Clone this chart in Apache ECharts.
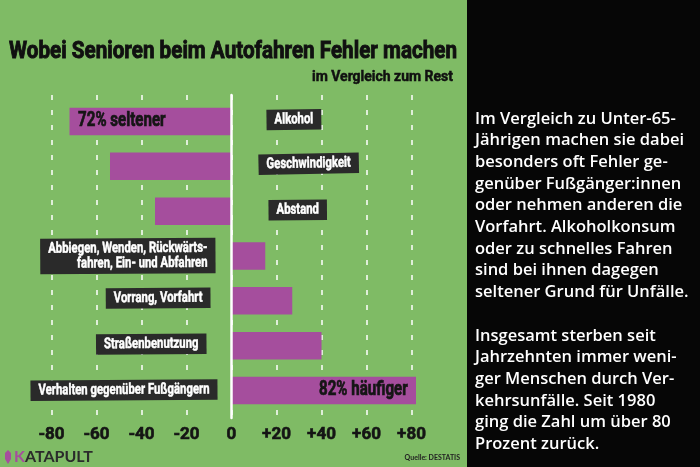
<!DOCTYPE html>
<html><head><meta charset="utf-8">
<script src="https://cdn.jsdelivr.net/npm/echarts@6/dist/echarts.min.js"></script>
<style>html,body{margin:0;padding:0;background:#7fbb65}#c{width:700px;height:467px}</style>
</head><body><div id="c"></div>
<script>
// ---- data ----
const categories = [
  'Alkohol',
  'Geschwindigkeit',
  'Abstand',
  'Abbiegen, Wenden, Rückwärts-\nfahren, Ein- und Abfahren',
  'Vorrang, Vorfahrt',
  'Straßenbenutzung',
  'Verhalten gegenüber Fußgängern'
];
const values = [-72, -54, -34, 15, 27, 40, 82];
const barTexts = ['72% seltener', '', '', '', '', '', '82% häufiger'];
const tickValues = [-80, -60, -40, -20, 0, 20, 40, 60, 80];
const titleText = 'Wobei Senioren beim Autofahren Fehler machen';
const subtitleText = 'im Vergleich zum Rest';
const sideLines = [
  'Im Vergleich zu Unter-65-',
  'Jährigen machen sie dabei',
  'besonders oft Fehler ge-',
  'genüber Fußgänger:innen',
  'oder nehmen anderen die',
  'Vorfahrt. Alkoholkonsum',
  'oder zu schnelles Fahren',
  'sind bei ihnen dagegen',
  'seltener Grund für Unfälle.',
  '',
  'Insgesamt sterben seit',
  'Jahrzehnten immer weni-',
  'ger Menschen durch Ver-',
  'kehrsunfälle. Seit 1980',
  'ging die Zahl um über 80',
  'Prozent zurück.'
];
const sourceText = 'Quelle: DESTATIS';

// ---- styles (not data) ----
const FONT = 'Roboto';
const W = 'bold';
const GREEN = '#7fbb65', PURPLE = '#a54e9d', BOX = '#2a2a2a', INK = '#101010';
const labelGap = [35, 27, 37, 16, 21, 25, 14];
const labelDy = [-1.5, -1.5, -1, -0.5, -3, -2, -1];
const labelRot = [0.012, 0.02, 0.008, 0.006, 0.006, 0.008, 0.006];

const mctx = document.createElement('canvas').getContext('2d');
function textW(t, font) {
  mctx.font = font;
  return Math.max.apply(null, t.split('\n').map(s => mctx.measureText(s).width));
}
const LABEL_FONT = W + ' 15px ' + FONT;
const labelSx = 171 / textW('Verhalten gegenüber Fußgängern', LABEL_FONT);
const INNER_FONT = W + ' 19.5px ' + FONT;
const innerSx = 87.5 / textW('72% seltener', INNER_FONT);
const TITLE_FONT = W + ' 23.5px ' + FONT;
const titleSx = 448 / textW(titleText, TITLE_FONT);
const SUB_FONT = W + ' 15px ' + FONT;
const subSx = 141 / textW(subtitleText, SUB_FONT);

const chart = echarts.init(document.getElementById('c'), null, {renderer: 'canvas'});

function renderLabels(params, api) {
  const i = params.dataIndex;
  const v = api.value(0);
  const c = api.value(1);
  const zero = api.coord([0, c]);
  const end = api.coord([v, c]);
  const neg = v < 0;
  const pad = 8 / labelSx;
  const children = [{
    type: 'text',
    x: zero[0] + (neg ? labelGap[i] : -labelGap[i]),
    y: zero[1] + labelDy[i],
    rotation: labelRot[i],
    scaleX: labelSx, scaleY: 1,
    style: {
      text: categories[i], align: neg ? 'left' : 'right', verticalAlign: 'middle',
      fill: '#ffffff', font: LABEL_FONT, lineHeight: 15,
      stroke: '#ffffff', lineWidth: 0.5,
      backgroundColor: BOX, padding: [3, pad, 2.5, pad]
    }
  }];
  if (barTexts[i]) {
    children.push({
      type: 'text',
      x: end[0] + (neg ? 8.6 : -8.3),
      y: end[1],
      scaleX: innerSx, scaleY: 1,
      style: {
        text: barTexts[i], align: neg ? 'left' : 'right', verticalAlign: 'middle',
        fill: '#151515', stroke: '#151515', lineWidth: 0.7, font: INNER_FONT
      }
    });
  }
  return {type: 'group', children: children};
}

const option = {
  backgroundColor: GREEN,
  animation: false,
  grid: [
    {left: 51.5, right: 288.5, top: 95, bottom: 49},
    {left: 51.5, right: 288.5, top: 99, bottom: 54}
  ],
  xAxis: [
    {
      gridIndex: 0, type: 'value', min: -80, max: 80, interval: 20,
      axisLine: {show: false}, axisTick: {show: false},
      splitLine: {show: true, lineStyle: {color: '#ffffff', width: 1.5, type: [5, 10]}},
      axisLabel: {
        margin: 8, color: '#141414', fontFamily: FONT, fontWeight: W, fontSize: 17,
        textBorderColor: '#141414', textBorderWidth: 0.6,
        formatter: v => (v > 0 ? '+' + v : String(v))
      }
    },
    {gridIndex: 1, type: 'value', min: -80, max: 80, show: false}
  ],
  yAxis: [
    {
      gridIndex: 0, type: 'value', min: 0, max: 1, z: 5,
      axisLabel: {show: false}, axisTick: {show: false}, splitLine: {show: false},
      axisLine: {show: true, onZero: true, lineStyle: {color: '#ffffff', width: 2.5}}
    },
    {gridIndex: 1, type: 'category', data: categories, inverse: true, show: false}
  ],
  series: [
    {
      type: 'bar', xAxisIndex: 1, yAxisIndex: 1, data: values,
      barWidth: 27.5, clip: false,
      itemStyle: {color: PURPLE}
    },
    {
      type: 'custom', xAxisIndex: 1, yAxisIndex: 1, z: 6, clip: false,
      data: values.map((v, i) => [v, i]),
      encode: {x: 0, y: 1},
      renderItem: renderLabels
    }
  ],
  graphic: [
    {type: 'rect', shape: {x: 467, y: 0, width: 233, height: 467}, style: {fill: '#060606'}, z: 1},
    {type: 'text', x: 9, y: 52, z: 10, scaleX: titleSx, style: {text: titleText, fill: INK,
      stroke: INK, lineWidth: 0.9, font: TITLE_FONT, textVerticalAlign: 'middle'}},
    {type: 'text', x: 453, y: 77, z: 10, scaleX: subSx, style: {text: subtitleText, fill: INK,
      stroke: INK, lineWidth: 0.5, font: SUB_FONT, textAlign: 'right', textVerticalAlign: 'middle'}},
    {type: 'text', x: 475, y: 108, z: 10, style: {text: sideLines.join('\n'), fill: '#ffffff',
      font: '600 16.5px "Open Sans"', lineHeight: 21.7, textVerticalAlign: 'top'}},
    {type: 'polygon', z: 10, shape: {points: [[8, 450], [11, 453], [11, 459], [8, 464], [5, 459], [5, 453]]},
      style: {fill: PURPLE}},
    {type: 'text', x: 14, y: 457, z: 10, style: {
      text: '{k|K}{a|ATAPULT}', textVerticalAlign: 'middle',
      rich: {
        k: {fill: PURPLE, fontFamily: 'Lato', fontWeight: 'bold', fontSize: 16},
        a: {fill: '#2b2b2b', fontFamily: 'Lato', fontWeight: 'bold', fontSize: 16}
      }}},
    {type: 'text', x: 460, y: 458, z: 10, style: {text: sourceText, fill: '#222',
      font: 'bold 7px Lato', textAlign: 'right', textVerticalAlign: 'middle'}}
  ]
};
chart.setOption(option);
</script></body></html>
